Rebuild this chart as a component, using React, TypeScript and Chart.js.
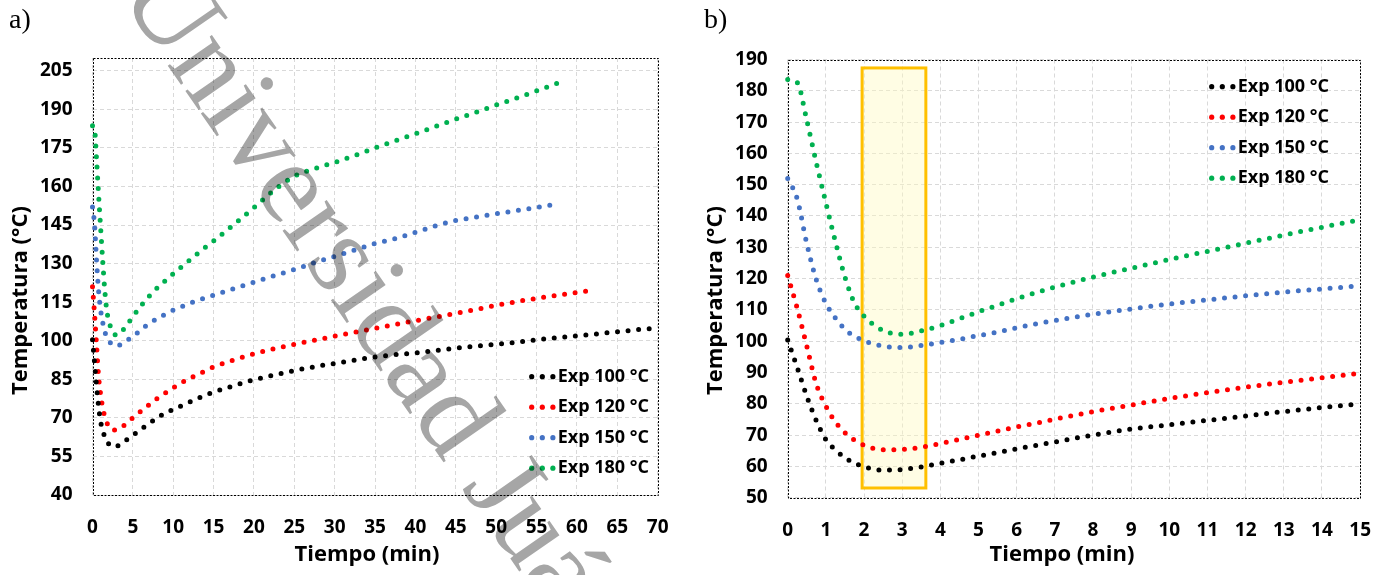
import React, { useEffect, useRef } from "react";
import { Chart, registerables } from "chart.js";

Chart.register(...registerables);

// ---------- DATA ----------
const tiempo = [
  0, 0.25, 0.5, 0.75, 1, 1.25, 1.5, 1.75, 2,
  2.5, 3, 3.5, 4, 4.5, 5, 5.5, 6, 6.5, 7,
  8, 9, 10, 11, 12, 13, 14, 15,
  17.5, 20, 22.5, 25, 27.5, 30, 32.5, 35, 37.5, 40, 42.5, 45, 47.5, 50, 52.5, 55, 57.5,
  60, 61.5, 62.5, 65, 67.5, 70,
];

const exp100 = [
  100.4, 91.6, 82.4, 74.6, 68.6, 65.3, 62.8, 61.1, 59.9,
  58.8, 59.0, 59.8, 61.0, 62.1, 63.3, 64.4, 65.6, 66.7, 67.8,
  70.0, 71.9, 73.3, 74.7, 76.1, 77.5, 78.8, 80.0,
  82.5, 84.8, 86.7, 88.4, 89.9, 91.2, 92.5, 93.7, 94.6, 95.3, 96.2, 97.1, 97.9, 98.6, 99.4, 100.4, 101.2,
  101.9, 102.4, 102.7, 103.5, 104.3, 105.0,
];

const exp120 = [
  121.0, 110.5, 98.4, 86.3, 79.3, 74.2, 70.8, 68.4, 66.8,
  65.3, 65.4, 66.1, 67.3, 68.6, 70.0, 71.3, 72.6, 73.8, 75.1,
  77.5, 79.6, 81.7, 83.6, 85.3, 86.9, 88.3, 89.8,
  92.5, 94.9, 96.9, 98.6, 100.2, 101.8, 103.3, 104.8, 106.3, 107.8, 109.2, 110.7, 112.2, 113.8, 115.2, 116.5, 117.7,
  118.8, 119.5,
];

const exp150 = [
  152.0, 145.4, 131.2, 119.6, 112.1, 107.4, 103.8, 101.6, 100.1,
  98.4, 98.0, 98.6, 99.6, 100.6, 101.8, 102.9, 104.3, 105.5, 106.6,
  108.6, 110.3, 111.9, 113.2, 114.5, 115.7, 116.7, 117.7,
  120.3, 122.8, 125.3, 127.7, 130.4, 132.8, 135.3, 137.8, 139.7, 142.2, 144.7, 146.8, 148.1, 149.4, 150.6, 151.9, 153.2,
];

const exp180 = [
  183.6, 182.6, 170.6, 157.0, 144.2, 131.8, 120.5, 112.2, 108.0,
  103.4, 102.2, 103.3, 105.0, 107.2, 109.4, 111.5, 113.6, 115.5, 117.3,
  120.5, 123.3, 126.1, 128.7, 131.3, 133.9, 136.4, 138.8,
  145.2, 151.8, 158.6, 164.0, 166.9, 169.4, 172.1, 175.0, 177.8, 180.5, 183.4, 186.2, 188.9, 191.7, 194.4, 197.2, 200.1,
];

const seriesLabels = ["Exp 100 °C", "Exp 120 °C", "Exp 150 °C", "Exp 180 °C"];
const seriesValues = [exp100, exp120, exp150, exp180];
const seriesColors = ["#000000", "#ff0000", "#4472c4", "#00b050"];

// tick labels
const yTicksA = [40, 55, 70, 85, 100, 115, 130, 145, 160, 175, 190, 205];
const xTicksA = [0, 5, 10, 15, 20, 25, 30, 35, 40, 45, 50, 55, 60, 65, 70];
const yTicksB = [50, 60, 70, 80, 90, 100, 110, 120, 130, 140, 150, 160, 170, 180, 190];
const xTicksB = [0, 1, 2, 3, 4, 5, 6, 7, 8, 9, 10, 11, 12, 13, 14, 15];

// highlighted window in panel b: [x from, x to, y from, y to]
const highlightBox = [1.95, 3.62, 53.1, 187.3];

const xTitle = "Tiempo (min)";
const yTitle = "Temperatura (°C)";
const watermark = "Universidad Juárez Autónoma de Tabasco";

// ---------- STYLE / LAYOUT ----------
const FONT = '"Open Sans", "Noto Sans", sans-serif';

const panelA = {
  panelLabel: "a)", xMax: 70, yMin: 40, yMax: 210, xTicks: xTicksA, yTicks: yTicksA,
  width: 690, left: 0, padTop: 58, padRight: 24, yAxisWidth: 92.5, xAxisHeight: 80,
  legendX: 531.7, legendY: 376.7, legendDy: 30.5, box: null as number[] | null, xTickPad: 21.5,
};
const panelB = {
  panelLabel: "b)", xMax: 15, yMin: 50, yMax: 190, xTicks: xTicksB, yTicks: yTicksB,
  width: 697, left: 695, padTop: 59.5, padRight: 30, yAxisWidth: 92.7, xAxisHeight: 77.3,
  legendX: 516.7, legendY: 86.7, legendDy: 30.5, box: highlightBox as number[] | null, xTickPad: 21,
};

const decorPlugin = {
  id: "decor",
  beforeDatasetsDraw(chart: any, _args: any, opts: any) {
    const { ctx, chartArea: ca, scales } = chart;
    const xs = scales.x;
    const ys = scales.y;
    ctx.save();
    if (opts.box) {
      const [bx0, bx1, by0, by1] = opts.box;
      const l = xs.getPixelForValue(bx0);
      const r = xs.getPixelForValue(bx1);
      const t = ys.getPixelForValue(by1);
      const b = ys.getPixelForValue(by0);
      ctx.fillStyle = "rgba(255, 250, 190, 0.42)";
      ctx.fillRect(l, t, r - l, b - t);
      ctx.strokeStyle = "#ffc000";
      ctx.lineWidth = 3;
      ctx.strokeRect(l, t, r - l, b - t);
    }
    ctx.strokeStyle = "#000000";
    ctx.lineWidth = 1;
    ctx.setLineDash([2, 1.5]);
    ctx.strokeRect(
      Math.round(ca.left) + 0.5,
      Math.round(ca.top) + 0.5,
      Math.round(ca.right - ca.left),
      Math.round(ca.bottom - ca.top)
    );
    ctx.restore();
  },
  afterDraw(chart: any, _args: any, opts: any) {
    const ctx = chart.ctx;
    ctx.save();
    ctx.fillStyle = "#000";
    ctx.font = '28px "Liberation Serif", serif';
    ctx.textAlign = "left";
    ctx.textBaseline = "alphabetic";
    ctx.fillText(opts.panelLabel, 9, 28);

    ctx.font = `bold 22px ${FONT}`;
    ctx.textAlign = "center";
    ctx.textBaseline = "middle";
    ctx.fillText(xTitle, 367, 555);

    ctx.save();
    ctx.translate(21, 395);
    ctx.rotate(-Math.PI / 2);
    ctx.textAlign = "left";
    ctx.fillText(yTitle, 0, 0);
    ctx.restore();

    chart.data.datasets.forEach((ds: any, i: number) => {
      const y = opts.legendY + i * opts.legendDy;
      ctx.fillStyle = ds.borderColor;
      for (let k = 0; k < 3; k++) {
        ctx.beginPath();
        ctx.arc(opts.legendX + k * 10.6, y, 2.6, 0, Math.PI * 2);
        ctx.fill();
      }
      ctx.fillStyle = "#000";
      ctx.font = `bold 18px ${FONT}`;
      ctx.textAlign = "left";
      ctx.textBaseline = "middle";
      ctx.fillText(ds.label, opts.legendX + 26, y);
    });
    ctx.restore();
  },
};

function buildConfig(p: typeof panelA): any {
  const datasets = seriesValues.map((vals, i) => ({
    label: seriesLabels[i],
    data: vals
      .map((v, j) => ({ x: tiempo[j], y: v }))
      .filter((pt) => pt.x <= p.xMax),
    borderColor: seriesColors[i],
    backgroundColor: seriesColors[i],
    borderWidth: 5,
    borderDash: [0, 10.6],
    borderCapStyle: "round",
    pointRadius: 0,
    pointHoverRadius: 0,
    cubicInterpolationMode: "monotone",
    fill: false,
    clip: false,
  }));
  const tickFont = { family: FONT, size: 19, weight: "bold" };
  const grid = { color: "#d9d9d9", lineWidth: 1, drawTicks: false, borderDash: [4, 3] };
  const border = { display: false, dash: [4, 3] };
  return {
    type: "line",
    data: { datasets },
    plugins: [decorPlugin],
    options: {
      animation: false,
      responsive: false,
      events: [],
      layout: { padding: { left: 0, top: p.padTop, right: p.padRight, bottom: 0 } },
      scales: {
        x: {
          type: "linear",
          min: 0,
          max: p.xMax,
          border,
          grid,
          ticks: {
            autoSkip: false,
            maxRotation: 0,
            padding: p.xTickPad,
            color: "#000",
            font: tickFont,
          },
          afterBuildTicks: (s: any) => {
            s.ticks = p.xTicks.map((v) => ({ value: v }));
          },
          afterFit: (s: any) => {
            s.height = p.xAxisHeight;
          },
        },
        y: {
          type: "linear",
          min: p.yMin,
          max: p.yMax,
          border,
          grid,
          ticks: {
            autoSkip: false,
            padding: 20,
            color: "#000",
            font: tickFont,
          },
          afterBuildTicks: (s: any) => {
            s.ticks = p.yTicks.map((v) => ({ value: v }));
          },
          afterFit: (s: any) => {
            s.width = p.yAxisWidth;
          },
        },
      },
      plugins: {
        legend: { display: false },
        tooltip: { enabled: false },
        decor: {
          panelLabel: p.panelLabel,
          legendX: p.legendX,
          legendY: p.legendY,
          legendDy: p.legendDy,
          box: p.box,
        },
      },
    },
  };
}

function Panel({ spec }: { spec: typeof panelA }) {
  const ref = useRef<HTMLCanvasElement | null>(null);
  useEffect(() => {
    if (!ref.current) return;
    const chart = new Chart(ref.current, buildConfig(spec));
    return () => chart.destroy();
  }, [spec]);
  return (
    <canvas
      ref={ref}
      width={spec.width}
      height={575}
      style={{ position: "absolute", left: spec.left, top: 0, width: spec.width, height: 575 }}
    />
  );
}

function Watermark() {
  const ref = useRef<HTMLCanvasElement | null>(null);
  useEffect(() => {
    const c = ref.current;
    if (!c) return;
    const ctx = c.getContext("2d");
    if (!ctx) return;
    ctx.clearRect(0, 0, c.width, c.height);
    ctx.save();
    ctx.translate(118, -6);
    ctx.rotate((55.2 * Math.PI) / 180);
    ctx.font = '117px "Liberation Serif", serif';
    ctx.fillStyle = "#a6a6a6";
    ctx.textBaseline = "alphabetic";
    ctx.fillText(watermark, 0, 0);
    ctx.restore();
  }, []);
  return (
    <canvas
      ref={ref}
      width={1392}
      height={575}
      style={{
        position: "absolute",
        left: 0,
        top: 0,
        width: 1392,
        height: 575,
        pointerEvents: "none",
        mixBlendMode: "multiply",
      }}
    />
  );
}

export default function App() {
  return (
    <div
      style={{
        position: "absolute",
        left: 0,
        top: 0,
        width: 1392,
        height: 575,
        overflow: "hidden",
        background: "#ffffff",
      }}
    >
      <Panel spec={panelA} />
      <Panel spec={panelB} />
      <Watermark />
    </div>
  );
}
